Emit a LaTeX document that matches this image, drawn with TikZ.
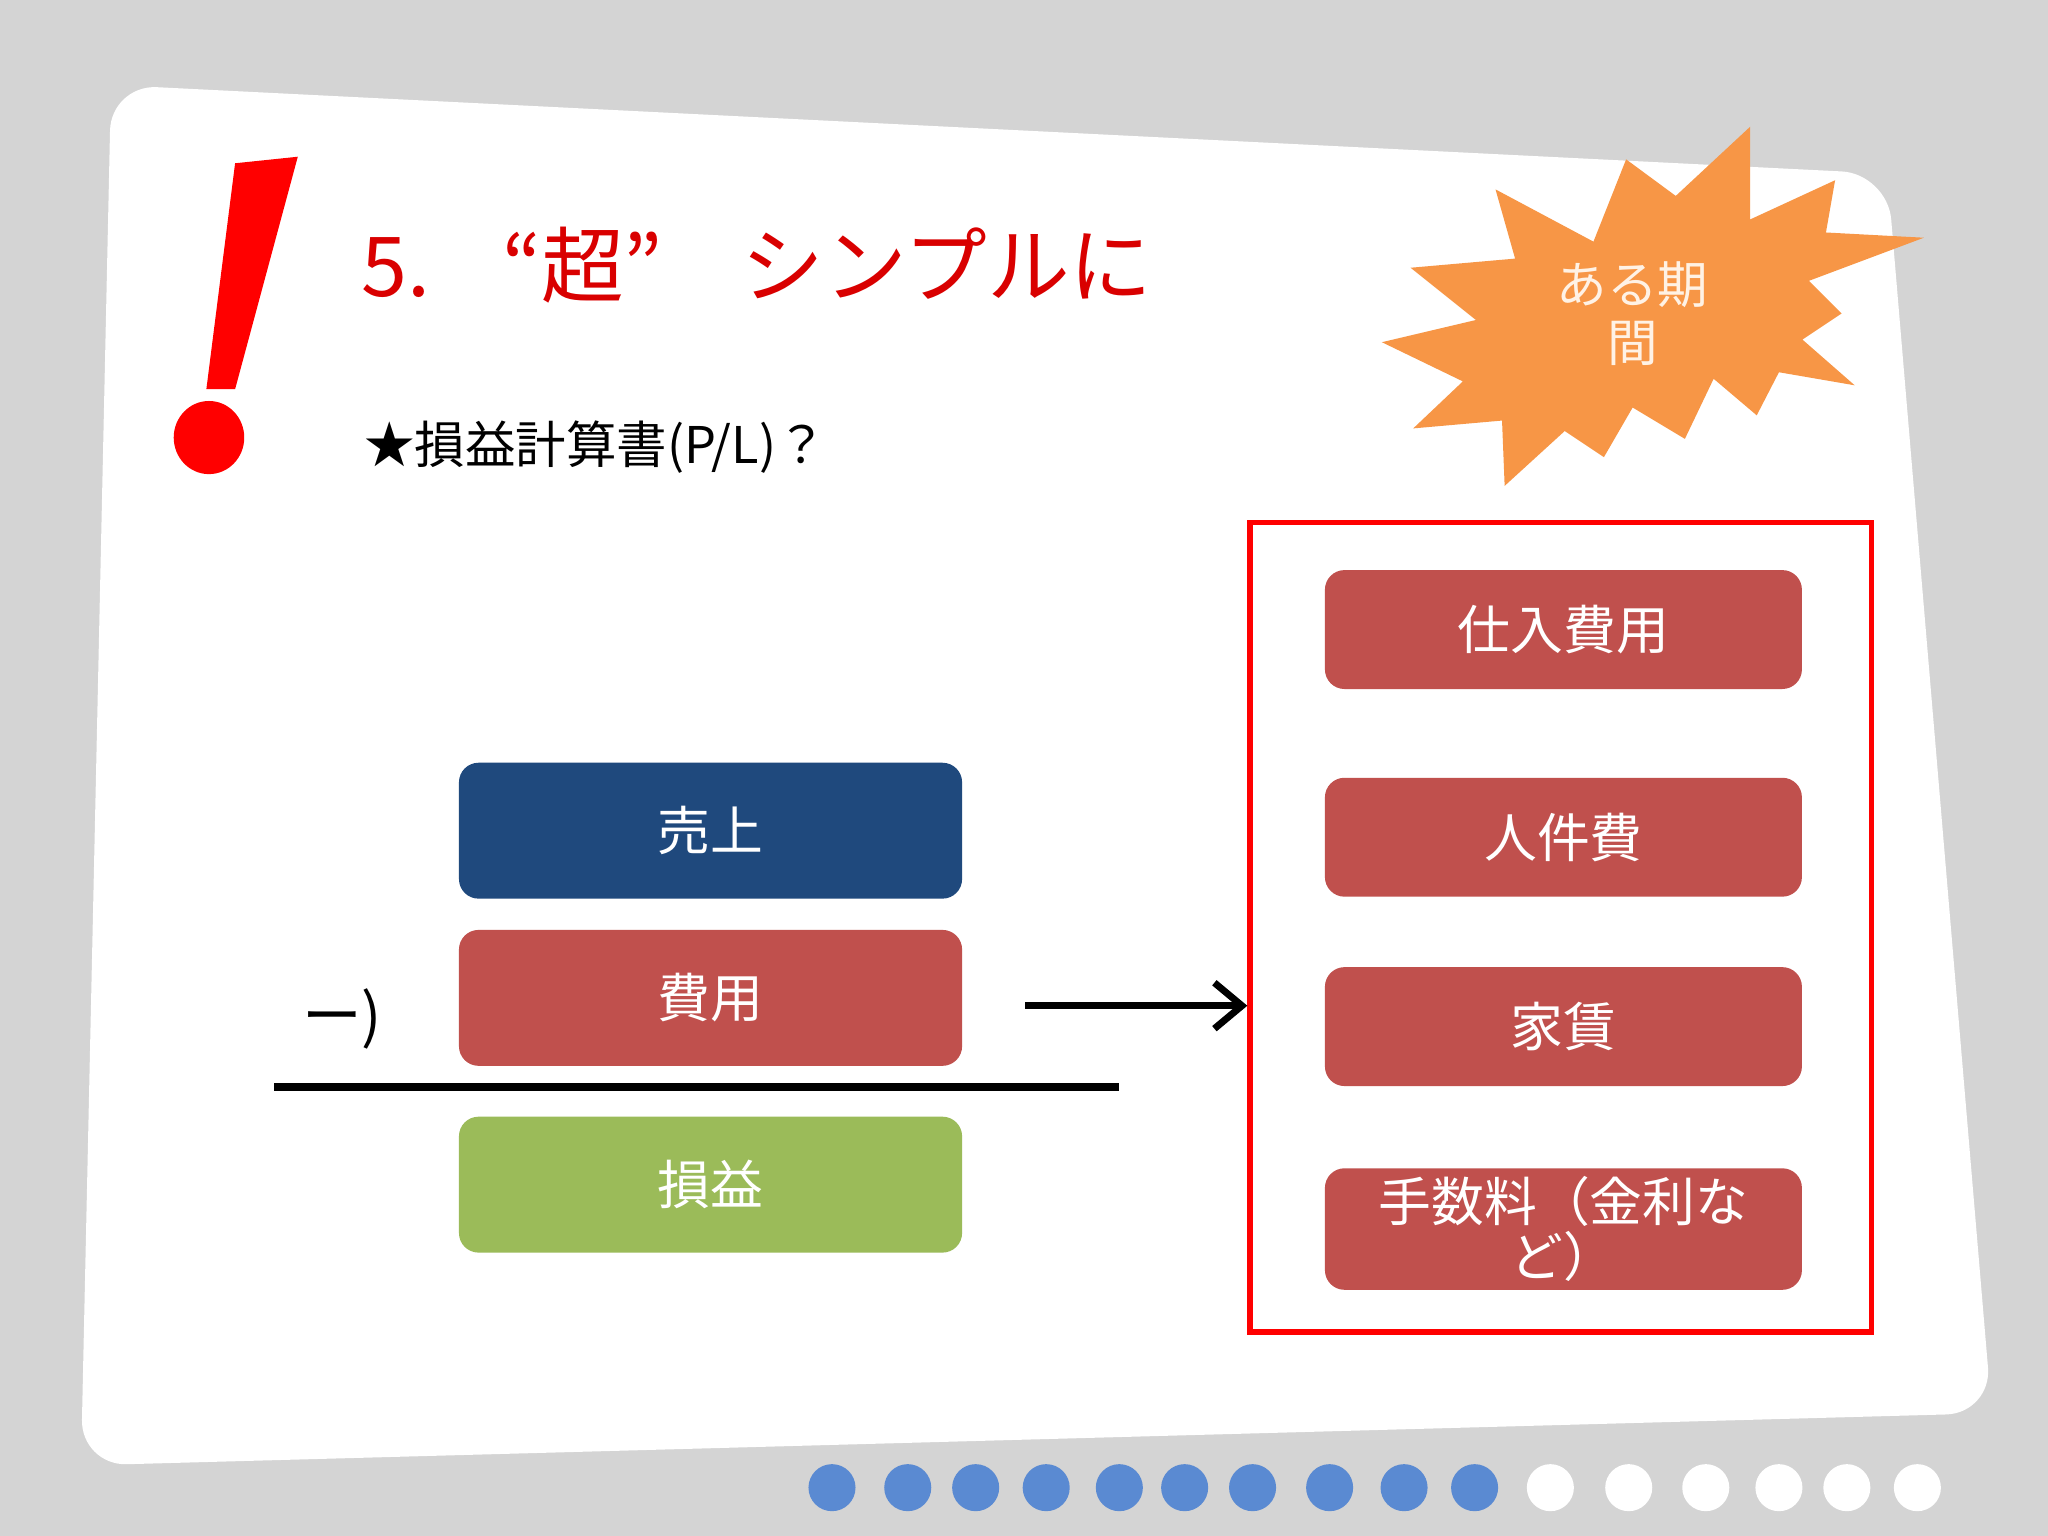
\documentclass[tikz,border=0pt]{standalone}
\usepackage{fontspec}
\setmainfont{Liberation Sans}
\newfontfamily\jp{Noto Sans CJK JP}
\usetikzlibrary{arrows.meta}
\definecolor{bg}{HTML}{D4D4D4}
\definecolor{pred}{HTML}{C0504D}
\definecolor{pblue}{HTML}{1F497D}
\definecolor{pgreen}{HTML}{9BBB59}
\definecolor{porange}{HTML}{F79646}
\definecolor{dotblue}{HTML}{5A8AD2}
\tikzset{
 P/.style={x=0.01cm,y=-0.01cm},
 box/.style={rounded corners=0.15cm,draw=none,text=white,font=\jp\fontsize{11.5}{13}\selectfont,align=center},
 dotb/.style={circle,fill=dotblue,minimum size=0.36cm,inner sep=0},
 dotw/.style={circle,fill=white,minimum size=0.36cm,inner sep=0}
}
\begin{document}
\begin{tikzpicture}[P]
\fill[bg] (0,0) rectangle (1568,1176);
\useasboundingbox (0,0) rectangle (1568,1176);
\fill[white,rounded corners=0.35cm] (85,65) -- (1445,133) -- (1525,1082) -- (62,1122) -- cycle;
% exclamation
\fill[red] (180,125) -- (228,120) -- (180,298) -- (158,298) -- cycle;
\fill[red] (160,335) ellipse (27 and 28);
\node[anchor=west,text=red!85!black,font=\jp\fontsize{18}{20}\selectfont,inner sep=0] (title) at (276,203) {5.\hspace{0.55cm}“超”\hspace{0.6cm}シンプルに};
\node[anchor=west,font=\jp\fontsize{11}{13}\selectfont,inner sep=0] (sub) at (278,342) {★損益計算書(P/L)？};
% starburst
\fill[porange] (1340,97) -- (1283,150) -- (1245,122) -- (1220,185) -- (1145,145) -- (1160,198) -- (1080,205) -- (1130,245) -- (1058,262) -- (1120,292) -- (1082,328) -- (1150,322) -- (1152,372) -- (1198,330) -- (1228,350) -- (1250,312) -- (1290,336) -- (1312,290) -- (1345,318) -- (1362,285) -- (1420,295) -- (1380,260) -- (1410,240) -- (1385,215) -- (1473,182) -- (1398,178) -- (1405,138) -- (1340,168) -- cycle;
\node[text=white!90!orange,font=\jp\fontsize{11}{12.5}\selectfont,align=center] (burst) at (1250,240) {ある期\\間};
% red frame
\draw[red,line width=1.2pt] (957,400) rectangle (1433,1020);
\node[box,fill=pred,minimum width=3.65cm,minimum height=0.91cm] (r1) at (1197,482) {仕入費用};
\node[box,fill=pred,minimum width=3.65cm,minimum height=0.91cm] (r2) at (1197,641) {人件費};
\node[box,fill=pred,minimum width=3.65cm,minimum height=0.91cm] (r3) at (1197,786) {家賃};
\node[box,fill=pred,minimum width=3.65cm,minimum height=0.93cm,inner ysep=0pt,font=\jp\fontsize{11.5}{12}\selectfont] (r4) at (1197,941) {手数料（金利な\\ど）};
% left
\node[box,fill=pblue,minimum width=3.85cm,minimum height=1.04cm] (a) at (544,636) {売上};
\node[box,fill=pred,minimum width=3.85cm,minimum height=1.04cm] (b) at (544,764) {費用};
\node[box,fill=pgreen,minimum width=3.85cm,minimum height=1.04cm] (c) at (544,907) {損益};
\node[font=\jp\fontsize{13}{15}\selectfont] (minus) at (262,780) {ー)};
\coordinate (l1) at (210,832); \coordinate (l2) at (857,832);
\draw[line width=1.7pt] (l1) -- (l2);
\coordinate (s) at (785,770); \coordinate (e) at (955,770);
\draw[line width=1.5pt,-{Straight Barb[length=6pt,width=10pt]}] (s) -- (e);
% dots
\foreach \x in {637,695,747,801,857,907,959,1018,1075,1129}
  \node[dotb] at (\x,1139) {};
\foreach \x in {1187,1247,1306,1362,1414,1468}
  \node[dotw] at (\x,1139) {};
\end{tikzpicture}
\end{document}
